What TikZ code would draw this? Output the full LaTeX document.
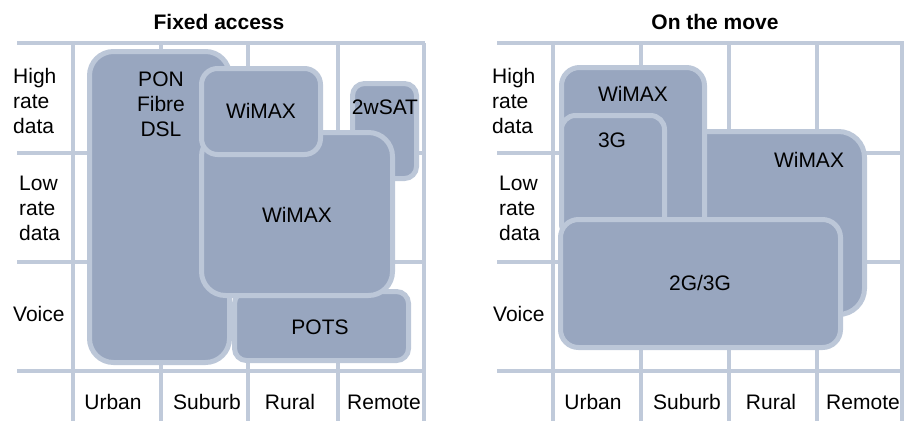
\documentclass[tikz,border=0pt]{standalone}
\usepackage{fontspec}
\setmainfont{Liberation Sans}
\definecolor{gridc}{RGB}{192,202,218}
\definecolor{boxfill}{RGB}{152,166,191}
\definecolor{boxline}{RGB}{188,199,216}
\begin{document}
\begin{tikzpicture}[x=1pt,y=-1pt,
  gridline/.style={gridc,line width=4.5pt},
  area/.style={fill=boxfill,draw=boxline,line width=5pt},
  lbl/.style={font=\fontsize{21}{25}\selectfont,inner sep=0pt,text=black},
  rowlbl/.style={lbl,anchor=west,align=left},
  ttl/.style={font=\fontsize{21}{25}\selectfont\bfseries,inner sep=0pt}]
\useasboundingbox (0,0) rectangle (904,421);
% ---------- left grid ----------
\foreach \y in {43,153,262,371} \draw[gridline] (17,\y) -- (425,\y);
\foreach \x in {73,161,248,338,424} \draw[gridline] (\x,43) -- (\x,421);
% ---------- right grid ----------
\foreach \y in {43,153,262,371} \draw[gridline] (497,\y) -- (904,\y);
\foreach \x in {553,641,729,817,902} \draw[gridline] (\x,43) -- (\x,421);
% ---------- titles ----------
\node[ttl] (t1) at (219,22) {Fixed access};
\node[ttl] (t2) at (715,22) {On the move};
% ---------- row labels ----------
\node[rowlbl] (lh) at (13,101) {High\\rate\\data};
\node[rowlbl] (ll) at (19,208) {Low\\rate\\data};
\node[rowlbl] (lv) at (13,314) {Voice};
\node[rowlbl] (rh) at (492,101) {High\\rate\\data};
\node[rowlbl] (rl) at (499,208) {Low\\rate\\data};
\node[rowlbl] (rv) at (493,314) {Voice};
% ---------- column labels ----------
\node[lbl] (c1) at (113,402) {Urban};
\node[lbl] (c2) at (207,402) {Suburb};
\node[lbl] (c3) at (290,402) {Rural};
\node[lbl] (c4) at (384,402) {Remote};
\node[lbl] (d1) at (593,402) {Urban};
\node[lbl] (d2) at (687,402) {Suburb};
\node[lbl] (d3) at (771,402) {Rural};
\node[lbl] (d4) at (863,402) {Remote};
% ---------- left boxes ----------
\draw[area,rounded corners=24pt] (89.5,51.5) rectangle (229.5,362.5);
\draw[area,rounded corners=12pt] (234.5,291.5) rectangle (408.5,360.5);
\draw[area,rounded corners=12pt] (352.5,83.5) rectangle (416.5,178.5);
\draw[area,rounded corners=24pt] (201.5,132.5) rectangle (392.5,295.5);
\draw[area,rounded corners=16pt] (201.5,68.5) rectangle (320.5,154.5);
\node[lbl,align=center] (pon) at (161,104) {PON\\Fibre\\DSL};
\node[lbl] (w1) at (261,111) {WiMAX};
\node[lbl] (w2) at (297,215) {WiMAX};
\node[lbl] (sat) at (385,107) {2wSAT};
\node[lbl] (pots) at (320,327) {POTS};
% ---------- right boxes ----------
\draw[area,rounded corners=26pt] (670,131.5) rectangle (864.5,314.5);
\draw[area,rounded corners=18pt] (561.5,67.5) rectangle (704.5,238);
\draw[area,rounded corners=14pt] (561.5,115.5) rectangle (664.5,238);
\draw[area,rounded corners=18pt] (560.5,219.5) rectangle (840.5,347.5);
\node[lbl] (w3) at (633,94) {WiMAX};
\node[lbl] (g3) at (612,140) {3G};
\node[lbl] (w4) at (809,160) {WiMAX};
\node[lbl] (g23) at (700,283) {2G/3G};
\end{tikzpicture}
\end{document}
